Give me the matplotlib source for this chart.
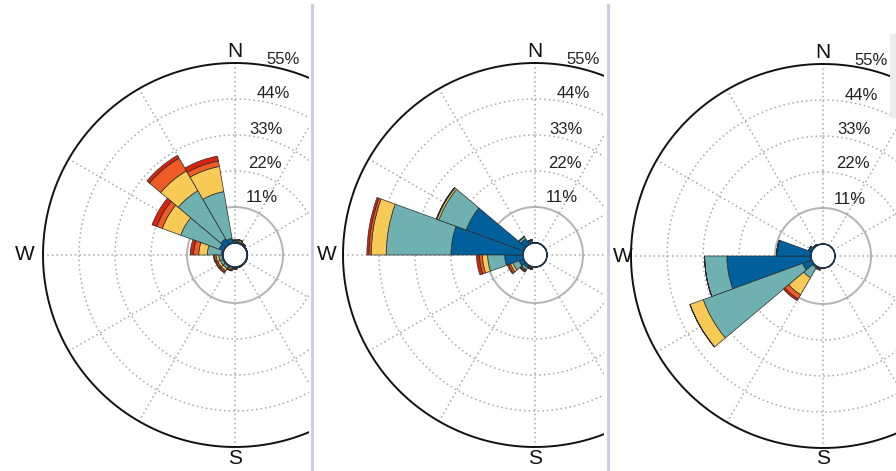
import numpy as np
import matplotlib
matplotlib.use('Agg')
import matplotlib.pyplot as plt
from matplotlib.patches import Rectangle

plt.rcParams['font.family'] = ['Liberation Sans', 'DejaVu Sans']

# ---------------- data ----------------
directions = np.arange(0, 360, 20)          # sector centres (deg)
speed_classes = ['c1', 'c2', 'c3', 'c4', 'c5']
speed_colors = ['#00609c', '#6fb1b1', '#f6ca55', '#ee5b25', '#d8240e']
ring_values = [11, 22, 33, 44, 55]
ring_labels = ['11%', '22%', '33%', '44%', '55%']
compass_labels = ['N', 'W', 'S']

#            0    20   40   60   80  100  120  140  160  180  200  220  240  260  280   300   320   340
p1_c1 = [0.3, 0.3, 0.2, 0.1, 0.1, 0.1, 0.1, 0.1, 0.1, 0.1, 0.2, 0.3, 0.3, 0.3, 0.5,  1.5,  2.0,  1.5]
p1_c2 = [0.3, 0.3, 0.2, 0.1, 0.1, 0.1, 0.1, 0.1, 0.1, 0.2, 0.4, 0.8, 0.8, 1.0, 4.3, 12.5, 17.0, 14.5]
p1_c3 = [0.3, 0.4, 0.2, 0.0, 0.0, 0.0, 0.0, 0.0, 0.1, 0.2, 0.4, 0.8, 0.8, 0.8, 2.6,  6.0,  7.0,  7.8]
p1_c4 = [0.0, 0.1, 0.0, 0.0, 0.0, 0.0, 0.0, 0.0, 0.0, 0.1, 0.2, 0.5, 0.5, 0.5, 1.6,  1.8,  4.5,  1.7]
p1_c5 = [0.0, 0.1, 0.0, 0.0, 0.0, 0.0, 0.0, 0.0, 0.0, 0.1, 0.1, 0.3, 0.3, 0.3, 1.0,  1.5,  1.0,  1.5]

p2_c1 = [0.1, 0.1, 0.0, 0.0, 0.0, 0.0, 0.0, 0.0, 0.0, 0.1, 0.3, 0.8, 1.5, 5.6, 22.0, 18.7, 2.0, 0.8]
p2_c2 = [0.0, 0.0, 0.0, 0.0, 0.0, 0.0, 0.0, 0.0, 0.0, 0.1, 0.3, 0.8, 2.0, 5.2, 19.8,  8.9, 0.8, 0.3]
p2_c3 = [0.0, 0.0, 0.0, 0.0, 0.0, 0.0, 0.0, 0.0, 0.0, 0.0, 0.1, 0.3, 0.8, 1.6,  4.6,  0.6, 0.0, 0.0]
p2_c4 = [0.0, 0.0, 0.0, 0.0, 0.0, 0.0, 0.0, 0.0, 0.0, 0.0, 0.1, 0.3, 0.6, 0.9,  0.7,  0.2, 0.0, 0.0]
p2_c5 = [0.0, 0.0, 0.0, 0.0, 0.0, 0.0, 0.0, 0.0, 0.0, 0.0, 0.1, 0.2, 0.4, 0.9,  0.6,  0.0, 0.0, 0.0]

p3_c1 = [0.0, 0.0, 0.0, 0.0, 0.0, 0.0, 0.0, 0.0, 0.0, 0.0, 0.1, 0.5,  3.0, 25.7, 10.5, 1.0, 0.3, 0.0]
p3_c2 = [0.0, 0.0, 0.0, 0.0, 0.0, 0.0, 0.0, 0.0, 0.0, 0.0, 0.1, 3.5, 32.3,  6.8,  0.0, 0.0, 0.0, 0.0]
p3_c3 = [0.0, 0.0, 0.0, 0.0, 0.0, 0.0, 0.0, 0.0, 0.0, 0.0, 0.0, 6.0,  4.3,  0.0,  0.0, 0.0, 0.0, 0.0]
p3_c4 = [0.0, 0.0, 0.0, 0.0, 0.0, 0.0, 0.0, 0.0, 0.0, 0.0, 0.3, 1.5,  0.0,  0.0,  0.0, 0.0, 0.0, 0.0]
p3_c5 = [0.0, 0.0, 0.0, 0.0, 0.0, 0.0, 0.0, 0.0, 0.0, 0.0, 0.3, 0.6,  0.0,  0.0,  0.0, 0.0, 0.0, 0.0]

panels = [
    [p1_c1, p1_c2, p1_c3, p1_c4, p1_c5],
    [p2_c1, p2_c2, p2_c3, p2_c4, p2_c5],
    [p3_c1, p3_c2, p3_c3, p3_c4, p3_c5],
]

# ---------------- layout ----------------
W, H = 896, 471
fig = plt.figure(figsize=(W / 100, H / 100), dpi=100)
fig.patch.set_facecolor('white')

centers = [(235, 255), (535, 255), (823, 256)]
clip_x = [(0, 309), (314, 604), (610, 896)]
west_off = [210, 208, 200]
R = 192.0      # outer radius in px
HOLE = 12.0    # hole radius in px
rmax = 55.0
rorigin = -rmax * HOLE / (R - HOLE)

# offsets of ring labels from centre (px, right / up)
ring_label_off = [(27, 57), (30, 92), (31, 126), (38, 161), (48, 196)]

for (cx, cy), (x0, x1), wo, series in zip(centers, clip_x, west_off, panels):
    left = (cx - R) / W
    bottom = (H - cy - R) / H
    ax = fig.add_axes([left, bottom, 2 * R / W, 2 * R / H], projection='polar')
    ax.set_theta_zero_location('N')
    ax.set_theta_direction(-1)
    ax.set_ylim(0, rmax)
    ax.set_rorigin(rorigin)
    ax.grid(False)
    ax.set_xticks([])
    ax.set_yticks([])
    for sp in ax.spines.values():
        sp.set_visible(False)
    ax.patch.set_visible(False)

    clip = Rectangle((x0 / W, 0), (x1 - x0) / W, 1, transform=fig.transFigure)
    artists = []

    th = np.linspace(0, 2 * np.pi, 400)
    # rings
    for rv in ring_values:
        if rv == 11:
            artists += ax.plot(th, np.full_like(th, rv), color='#b3b3b3', lw=1.4, zorder=1)
        elif rv == 55:
            artists += ax.plot(th, np.full_like(th, rv), color='#111111', lw=1.4, zorder=5)
        else:
            artists += ax.plot(th, np.full_like(th, rv), color='#a8a8a8', lw=1.1,
                               ls=(0, (1, 2)), zorder=1)
    # spokes
    for ang in range(0, 360, 30):
        t = np.deg2rad(ang)
        artists += ax.plot([t, t], [0, rmax], color='#a8a8a8', lw=1.1,
                           ls=(0, (1, 2)), zorder=1)

    # stacked bars
    theta = np.deg2rad(directions)
    width = np.deg2rad(20)
    base = np.zeros(len(directions))
    for vals, col in zip(series, speed_colors):
        v = np.array(vals, dtype=float)
        bars = ax.bar(theta, v, width=width, bottom=base, color=col,
                      edgecolor='#2a2a2a', linewidth=0.5, zorder=3)
        artists += list(bars.patches)
        base = base + v

    # hole outline
    artists += ax.plot(th, np.zeros_like(th), color='#1d3550', lw=1.0, zorder=6)

    # compass labels
    tN = ax.text(0.5, 0.5 + 203 / (2 * R), 'N', transform=ax.transAxes, ha='center',
                 va='center', fontsize=15, color='#111111')
    tW = ax.text(0.5 - wo / (2 * R), 0.5, 'W', transform=ax.transAxes, ha='center',
                 va='center', fontsize=15, color='#111111')
    tS = ax.text(0.5, 0.5 - 203 / (2 * R), 'S', transform=ax.transAxes, ha='center',
                 va='center', fontsize=15, color='#111111')
    artists += [tN, tW, tS]
    for lab, (dx, dy) in zip(ring_labels, ring_label_off):
        t = ax.text(0.5 + dx / (2 * R), 0.5 + dy / (2 * R), lab, transform=ax.transAxes,
                    ha='center', va='center', fontsize=12, color='#222222')
        artists.append(t)

    for a in artists:
        a.set_clip_on(True)
        a.set_clip_path(clip)

# separators
for xs in (312, 608):
    fig.add_artist(plt.Line2D([xs / W, xs / W], [0, 1 - 5 / H], transform=fig.transFigure,
                              color='#c9c9e2', lw=2))
fig.add_artist(Rectangle((890 / W, 1 - 118 / H), 6 / W, 84 / H, transform=fig.transFigure,
                         facecolor='#eeeeee', edgecolor='none'))

fig.savefig('out.png', dpi=100)
